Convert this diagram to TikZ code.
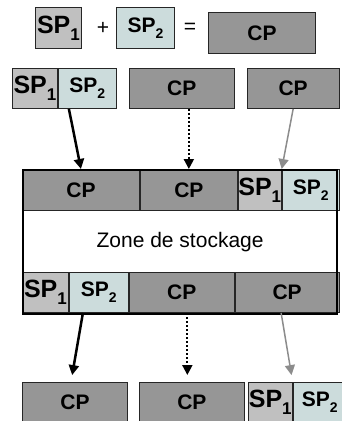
\documentclass[tikz,border=0pt]{standalone}
\usepackage{fontspec}
\setmainfont{Liberation Sans}
\usetikzlibrary{positioning, arrows.meta}

\definecolor{spone}{HTML}{C0C0C0}
\definecolor{sptwo}{HTML}{CCDCDC}
\definecolor{cpgray}{HTML}{969696}
\definecolor{arrowgray}{HTML}{8C8C8C}

\newcommand{\spone}{\fontsize{25}{25}\selectfont\bfseries SP\raisebox{-7pt}{\fontsize{17}{17}\selectfont\bfseries 1}}
\newcommand{\sptwo}{\fontsize{21}{21}\selectfont\bfseries SP\raisebox{-6pt}{\fontsize{14}{14}\selectfont\bfseries 2}}
\newcommand{\cptext}{\fontsize{21}{21}\selectfont\bfseries CP}

\tikzset{
  cell/.style={draw=black!85, line width=0.9pt, inner sep=0pt, minimum height=#1},
  cell/.default=40pt,
  spa/.style={cell, fill=spone},
  spb/.style={cell, fill=sptwo},
  cpb/.style={cell, fill=cpgray},
  blackarrow/.style={-{Triangle[width=10pt,length=10pt]}, line width=2.5pt, black},
  dotarrow/.style={-{Triangle[width=10pt,length=10pt]}, line width=2pt, dash pattern=on 2pt off 2pt, black},
  grayarrow/.style={-{Triangle[width=10pt,length=10pt]}, line width=1.5pt, arrowgray, draw=arrowgray},
}

\begin{document}
\begin{tikzpicture}[x=1pt, y=-1pt]
  \useasboundingbox (0,0) rectangle (342,421);
  \clip (0,0) rectangle (342,421);

  % top line: SP1 + SP2 = CP
  \node[spa, minimum width=46pt, minimum height=41pt, anchor=north west] (tspa) at (35,7) {\spone};
  \node[spb, minimum width=58pt, minimum height=41pt, anchor=north west] (tspb) at (116,7) {\sptwo};
  \node[cpb, minimum width=107pt, minimum height=41pt, anchor=north west] (tcp) at (208,12) {\cptext};
  \node[font=\fontsize{21}{21}\selectfont] (plus) at (103,28) {+};
  \node[font=\fontsize{21}{21}\selectfont] (eq) at (190,28) {=};

  % incoming packets
  \node[spa, minimum width=45pt, anchor=north west] (r2spa) at (12,68) {\spone};
  \node[spb, minimum width=58pt] (r2spb) [right=0pt of r2spa] {\sptwo};
  \node[cpb, minimum width=105pt] (r2cpa) [right=12pt of r2spb] {\cptext};
  \node[cpb, minimum width=92pt] (r2cpb) [right=12pt of r2cpa] {\cptext};

  % storage zone, top cells
  \node[cpb, minimum width=117pt, minimum height=41pt, anchor=north west] (scpa) at (22,169) {\cptext};
  \node[cpb, minimum width=97pt, minimum height=41pt] (scpb) [right=0pt of scpa] {\cptext};
  \node[spa, minimum width=43pt, minimum height=41pt] (sspa) [right=0pt of scpb] {\spone};
  \node[spb, minimum width=57pt, minimum height=41pt] (sspb) [right=0pt of sspa] {\sptwo};

  % storage zone, bottom cells
  \node[spa, minimum width=46pt, anchor=south west] (bspa) at (22,313) {\spone};
  \node[spb, minimum width=59pt] (bspb) [right=0pt of bspa] {\sptwo};
  \node[cpb, minimum width=105pt] (bcpa) [right=0pt of bspb] {\cptext};
  \node[cpb, minimum width=104pt] (bcpb) [right=0pt of bcpa] {\cptext};

  \node[draw, line width=2.2pt, minimum width=314pt, minimum height=144pt, anchor=north west,
        font=\fontsize{21}{21}\selectfont] (store) at (22,169) {Zone de stockage};

  % outgoing packets
  \node[cpb, minimum width=105pt, anchor=north west] (ocpa) at (22,382) {\cptext};
  \node[cpb, minimum width=105pt] (ocpb) [right=11pt of ocpa] {\cptext};
  \node[spa, minimum width=44pt] (ospa) [right=3pt of ocpb] {\spone};
  \node[spb, minimum width=53pt] (ospb) [right=0pt of ospa] {\sptwo};

  % into storage
  \draw[blackarrow] ([xshift=11pt]r2spb.south west) -- (scpa.north);
  \draw[dotarrow] (scpb.north |- r2cpa.south) -- (scpb.north);
  \draw[grayarrow] (r2cpb.south) -- (sspb.north west);

  % out of storage
  \draw[blackarrow, shorten >=7pt] ([xshift=14pt]bspb.south west) -- ([xshift=-4pt]ocpa.north);
  \draw[dotarrow, shorten >=7pt] ([xshift=-4.5pt]ocpb.north |- bcpa.south) -- ([xshift=-4.5pt]ocpb.north);
  \draw[grayarrow, shorten >=7pt] ([xshift=-6pt]bcpb.south) -- (ospa.north east);
\end{tikzpicture}
\end{document}
